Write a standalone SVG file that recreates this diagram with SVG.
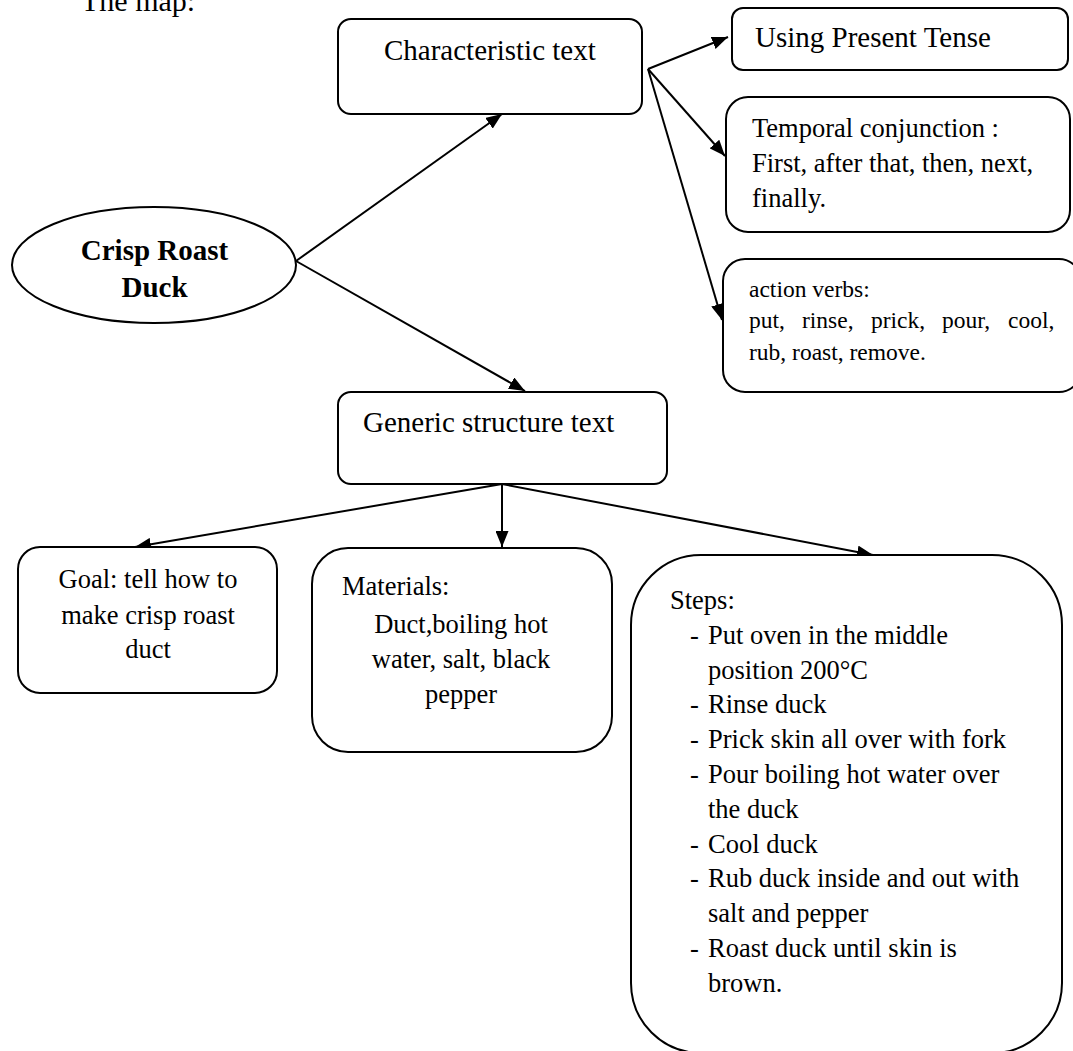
<svg xmlns="http://www.w3.org/2000/svg" width="1073" height="1051" viewBox="0 0 1073 1051">
  <style>
    text { font-family: "Liberation Serif", "Times New Roman", serif; fill: #000; }
    .box { fill: #fff; stroke: #000; stroke-width: 2; }
    .big { font-size: 29px; }
    .mid { font-size: 26.5px; }
    .small { font-size: 23.5px; }
    .bold { font-weight: bold; }
    .link { stroke: #000; stroke-width: 2; fill: none; marker-end: url(#arrow); }
  </style>
  <defs>
    <marker id="arrow" markerUnits="userSpaceOnUse" markerWidth="17" markerHeight="13" refX="16" refY="6.5" orient="auto">
      <path d="M0,0 L16,6.5 L0,13 z" fill="#000"/>
    </marker>
  </defs>

  <rect width="1073" height="1051" fill="#fff"/>

  <text x="81" y="11" font-size="30">The map:</text>

  <!-- connectors -->
  <g id="connectors">
    <line class="link" x1="296" y1="261" x2="502" y2="114"/>
    <line class="link" x1="296" y1="261" x2="525" y2="391"/>
    <line class="link" x1="648" y1="69" x2="728" y2="37"/>
    <line class="link" x1="648" y1="69" x2="725" y2="156"/>
    <line class="link" x1="648" y1="69" x2="722" y2="320"/>
    <line class="link" x1="502" y1="484" x2="135" y2="547"/>
    <line class="link" x1="502" y1="484" x2="502" y2="547"/>
    <line class="link" x1="502" y1="484" x2="873" y2="555"/>
  </g>

  <!-- central topic -->
  <g id="node-duck">
    <ellipse class="box" cx="154" cy="265" rx="142" ry="58"/>
    <text class="big bold" text-anchor="middle" x="154.5" y="260">Crisp Roast</text>
    <text class="big bold" text-anchor="middle" x="154.5" y="297">Duck</text>
  </g>

  <g id="node-characteristic">
    <rect class="box" x="338" y="19" width="304" height="95" rx="13"/>
    <text class="big" x="384" y="60">Characteristic text</text>
  </g>

  <g id="node-present-tense">
    <rect class="box" x="732" y="8" width="336" height="62" rx="11"/>
    <text class="big" x="755" y="47">Using Present Tense</text>
  </g>

  <g id="node-temporal">
    <rect class="box" x="726" y="97" width="344" height="135" rx="22"/>
    <text class="mid" x="752" y="137">Temporal conjunction :</text>
    <text class="mid" x="752" y="172">First, after that, then, next,</text>
    <text class="mid" x="752" y="207">finally.</text>
  </g>

  <g id="node-action-verbs">
    <rect class="box" x="723" y="259" width="358" height="133" rx="22"/>
    <text class="small" x="749" y="297">action verbs:</text>
    <text class="small" y="328"><tspan x="749">put,</tspan><tspan x="802">rinse,</tspan><tspan x="871">prick,</tspan><tspan x="942">pour,</tspan><tspan x="1008">cool,</tspan></text>
    <text class="small" x="749" y="360">rub, roast, remove.</text>
  </g>

  <g id="node-generic">
    <rect class="box" x="338" y="392" width="329" height="92" rx="13"/>
    <text class="big" x="363" y="432">Generic structure text</text>
  </g>

  <g id="node-goal">
    <rect class="box" x="18" y="547" width="259" height="146" rx="22"/>
    <text class="mid" text-anchor="middle" x="148" y="588">Goal: tell how to</text>
    <text class="mid" text-anchor="middle" x="148" y="624">make crisp roast</text>
    <text class="mid" text-anchor="middle" x="148" y="658">duct</text>
  </g>

  <g id="node-materials">
    <rect class="box" x="312" y="548" width="300" height="204" rx="36"/>
    <text class="mid" x="342" y="595">Materials:</text>
    <text class="mid" text-anchor="middle" x="461" y="633">Duct,boiling hot</text>
    <text class="mid" text-anchor="middle" x="461" y="668">water, salt, black</text>
    <text class="mid" text-anchor="middle" x="461" y="703">pepper</text>
  </g>

  <g id="node-steps">
    <rect class="box" x="631" y="555" width="431" height="498" rx="70"/>
    <text class="mid" x="670" y="609">Steps:</text>
    <text class="mid" x="690" y="644">-</text><text class="mid" x="708" y="644">Put oven in the middle</text>
    <text class="mid" x="708" y="679">position 200°C</text>
    <text class="mid" x="690" y="713">-</text><text class="mid" x="708" y="713">Rinse duck</text>
    <text class="mid" x="690" y="748">-</text><text class="mid" x="708" y="748">Prick skin all over with fork</text>
    <text class="mid" x="690" y="783">-</text><text class="mid" x="708" y="783">Pour boiling hot water over</text>
    <text class="mid" x="708" y="818">the duck</text>
    <text class="mid" x="690" y="853">-</text><text class="mid" x="708" y="853">Cool duck</text>
    <text class="mid" x="690" y="887">-</text><text class="mid" x="708" y="887">Rub duck inside and out with</text>
    <text class="mid" x="708" y="922">salt and pepper</text>
    <text class="mid" x="690" y="957">-</text><text class="mid" x="708" y="957">Roast duck until skin is</text>
    <text class="mid" x="708" y="992">brown.</text>
  </g>
</svg>
